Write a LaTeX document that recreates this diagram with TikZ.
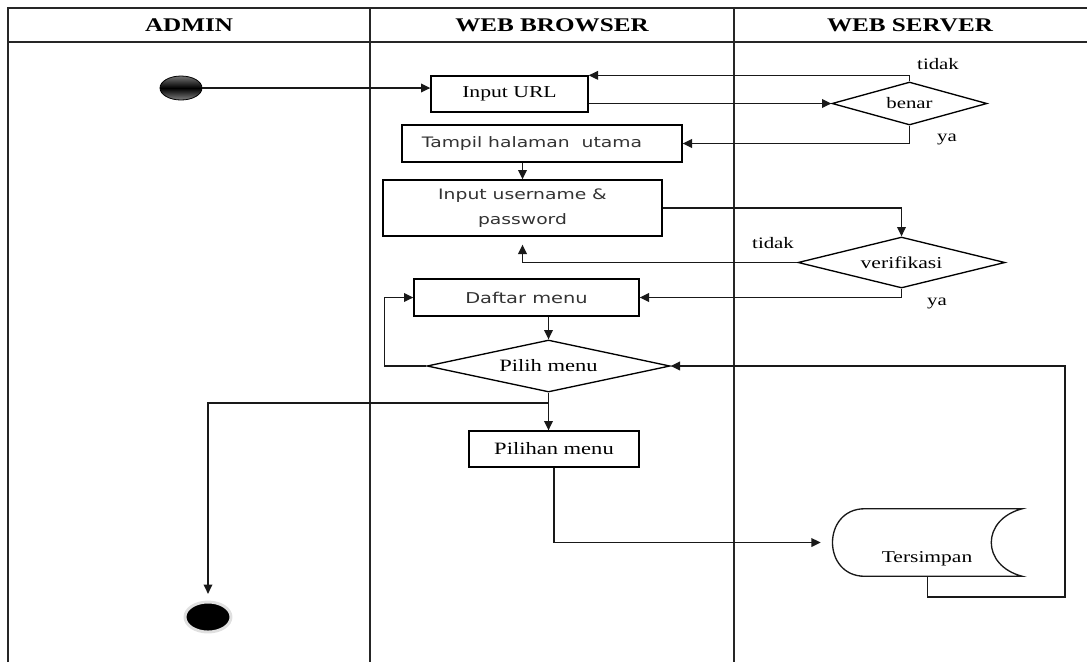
\documentclass[tikz,border=0pt]{standalone}
\usepackage{fontspec}
\setmainfont{Liberation Serif}[FakeStretch=1.3]
\newfontfamily\browserfont{DejaVu Sans}[FakeStretch=1.3]
\usepackage{tikz}
\usetikzlibrary{arrows.meta, shapes.geometric, positioning}
\tikzset{
  lane/.style={line width=1.4pt, black!85},
  link/.style={line width=1pt, black!90},
  flow/.style={link, -{Triangle[length=7pt,width=6.5pt]}},
  actbox/.style={draw, rectangle, line width=1pt, inner sep=0pt, font=\fontsize{12.5}{14}\selectfont},
  sansbox/.style={actbox, align=center, text=black!80, font=\browserfont\fontsize{10.8}{18.5}\selectfont},
  decide/.style={draw, diamond, aspect=4, line width=1pt, inner sep=0pt, font=\fontsize{12.5}{14}\selectfont},
  guard/.style={inner sep=0pt, font=\fontsize{12}{14}\selectfont},
  hdr/.style={inner sep=0pt, font=\bfseries\fontsize{14.5}{16}\selectfont}
}

\begin{document}
\begin{tikzpicture}[x=0.75pt, y=-0.75pt]
  \useasboundingbox (0,0) rectangle (1087,662);

  % swimlanes
  \draw[lane] (8,662) -- (8,8) -- (1087,8);
  \draw[lane] (8,42) -- (1087,42);
  \draw[lane] (370,8) -- (370,662);
  \draw[lane] (734,8) -- (734,662);
  \node[hdr] (admin) at (189,25) {ADMIN};
  \node[hdr] (browser) at (552,25) {WEB BROWSER};
  \node[hdr] (server) at (910,25) {WEB SERVER};

  % start / end
  \node[ellipse, draw=black, line width=0.6pt, minimum width=31.5pt, minimum height=18pt,
        top color=black!55, bottom color=black!50, middle color=black] (start) at (181,88) {};
  \node[ellipse, fill=black, draw=black!12, line width=2.2pt, minimum width=34.5pt,
        minimum height=22.5pt] (finish) at (208,617) {};

  % activities
  \node[actbox, minimum width=117.75pt, minimum height=27pt] (urlbox) at (509.5,94) {Input URL};
  \node[sansbox, minimum width=210pt, minimum height=27.75pt] (tampil) at (542,143.5) {Tampil halaman\ \ utama\hspace*{15pt}};
  \node[sansbox, minimum width=209.25pt, minimum height=42pt] (login) at (522.5,208) {Input username \&\\password};
  \node[sansbox, minimum width=168.75pt, minimum height=27.75pt, font=\browserfont\fontsize{11.2}{14}\selectfont] (daftar) at (526.5,297.5) {Daftar\ menu};
  \node[actbox, minimum width=127.5pt, minimum height=27pt, font=\fontsize{13}{15}\selectfont] (pilihan) at (554,449) {Pilihan menu};

  % decisions
  \node[decide, minimum width=116.25pt, minimum height=32.25pt, font=\fontsize{12}{14}\selectfont] (benar) at (909.5,103.5) {benar};
  \node[decide, minimum width=155.25pt, minimum height=38.25pt] (verif) at (901.5,262.5) {verifikasi};
  \node[decide, minimum width=182.25pt, minimum height=39pt, font=\fontsize{13}{15}\selectfont] (pilih) at (548.5,366) {Pilih menu};

  \node[guard] (tidaka) at (938,64) {tidak};
  \node[guard] (yaa) at (947,139) {ya};
  \node[guard] (tidakb) at (773,243) {tidak};
  \node[guard] (yab) at (937,303) {ya};

  % data store
  \node[minimum width=141.75pt, minimum height=50.25pt, inner sep=0pt] (store) at (927.5,542.5) {};
  \draw[link] ([xshift=24pt]store.north west) -- (store.north east)
    .. controls ([xshift=-31pt,yshift=-8pt]store.north east) and ([xshift=-31pt,yshift=8pt]store.south east) .. (store.south east)
    -- ([xshift=24pt]store.south west)
    .. controls ([xshift=-8.25pt]store.south west) and ([xshift=-8.25pt]store.north west) .. cycle;
  \node[guard, font=\fontsize{12.4}{14}\selectfont] (storetxt) at (927,559) {Tersimpan};

  \coordinate (fork) at (548.5,403);
  \coordinate (back) at (1065,597);

  % flows
  \draw[flow] (start.east) -- (start.east -| urlbox.west);
  \draw[flow] (urlbox.east |- benar.west) -- (benar.west);
  \draw[flow] (benar.north) |- (urlbox.north east);
  \draw[flow] (benar.south) |- (tampil.east);
  \draw[flow] (tampil.south -| login.north) -- (login.north);
  \draw[flow] (login.east) -| (verif.north);
  \draw[flow, shorten >=6pt] (verif.west) -| (login.south);
  \draw[flow] (verif.south) |- (daftar.east);
  \draw[flow] (daftar.south -| pilih.north) -- (pilih.north);
  \draw[flow] (pilih.west) -- ++(-42,0) |- (daftar.west);
  \draw[flow] (pilih.south) -- (pilih.south |- pilihan.north);
  \draw[flow, shorten >=5pt] (fork) -| (finish.north);
  \draw[flow, shorten >=9pt] (pilihan.south) |- (store.west);
  \draw[flow] (store.south) |- (back) |- (pilih.east);
\end{tikzpicture}
\end{document}
